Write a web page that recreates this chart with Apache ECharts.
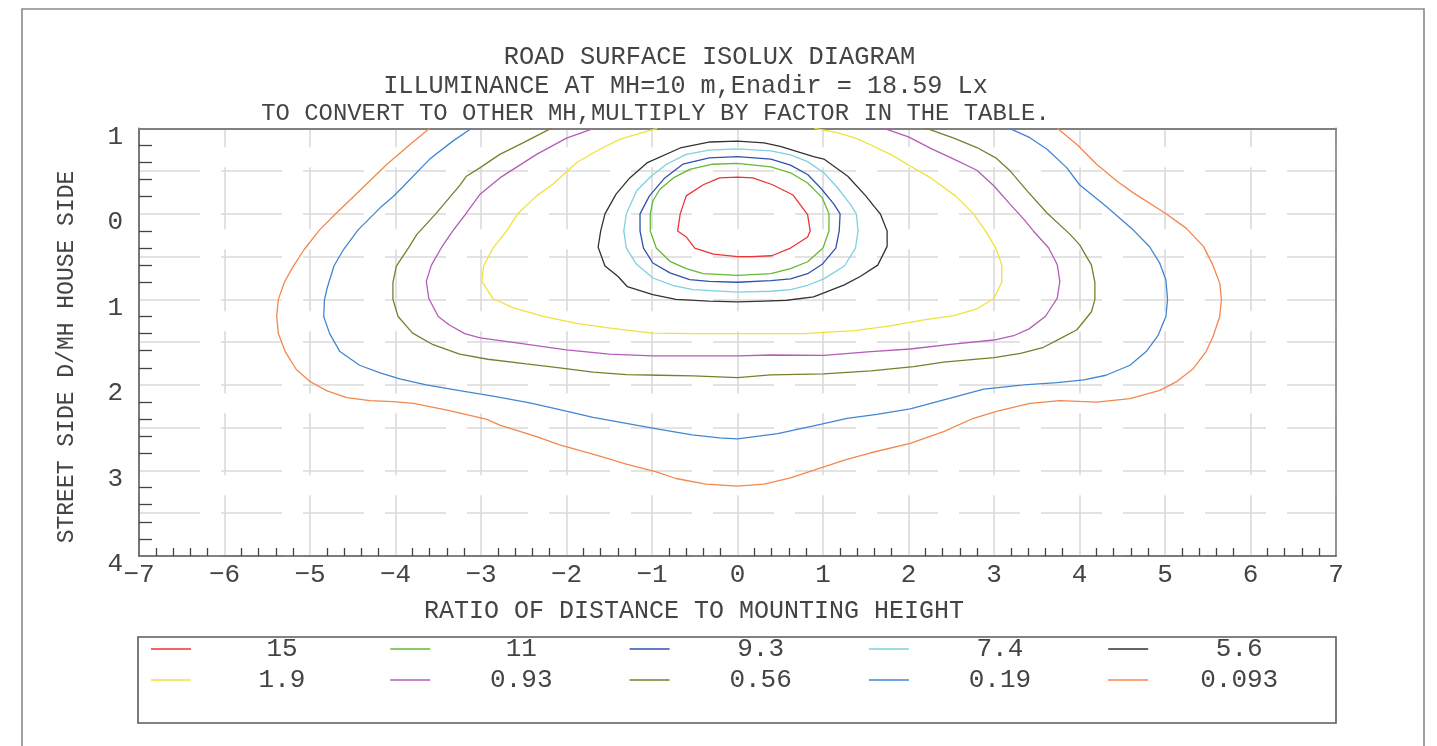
<!DOCTYPE html>
<html>
<head>
<meta charset="utf-8">
<script src="https://cdn.jsdelivr.net/npm/echarts@6/dist/echarts.min.js"></script>
<style>
html,body{margin:0;padding:0;background:#fff;}
#chart{width:1437px;height:746px;}
</style>
</head>
<body>
<div id="chart"></div>
<script>
// ---- data ----
const levels = ['15', '11', '9.3', '7.4', '5.6', '1.9', '0.93', '0.56', '0.19', '0.093'];
const levelColors = ['#ee3333', '#66b832', '#2d52b0', '#7fd0e0', '#333333', '#f0e23a', '#b45cb8', '#7d7d2e', '#4286d2', '#f3874c'];
const xTicks = [-7, 7, 1];   // min, max, step
const yTicks = [-1, 4, 1];   // min, max, step (house side negative, street side positive)

const iso15 = [[0,-0.43],[-0.21,-0.42],[-0.40,-0.34],[-0.60,-0.21],[-0.67,0.0],[-0.70,0.2],[-0.60,0.27],[-0.50,0.40],[-0.28,0.47],[0,0.50],[0.16,0.50],[0.40,0.49],[0.62,0.40],[0.82,0.27],[0.85,0.2],[0.82,0.01],[0.65,-0.22],[0.41,-0.34],[0.18,-0.42],[0,-0.43]];
const iso11 = [[0,-0.59],[-0.29,-0.58],[-0.56,-0.52],[-0.75,-0.42],[-0.91,-0.285],[-0.99,-0.15],[-1.02,0],[-1.02,0.2],[-0.95,0.4],[-0.79,0.555],[-0.60,0.64],[-0.40,0.70],[0,0.72],[0.39,0.70],[0.62,0.64],[0.82,0.56],[1.0,0.4],[1.07,0.2],[1.07,0],[0.99,-0.19],[0.82,-0.36],[0.62,-0.48],[0.39,-0.55],[0,-0.59]];
const iso9_3 = [[0,-0.67],[-0.33,-0.655],[-0.64,-0.58],[-0.85,-0.42],[-1.03,-0.21],[-1.14,0],[-1.14,0.2],[-1.10,0.4],[-0.99,0.575],[-0.79,0.69],[-0.56,0.77],[-0.33,0.79],[0,0.80],[0.39,0.78],[0.62,0.76],[0.82,0.70],[0.99,0.59],[1.15,0.40],[1.19,0.2],[1.20,0],[1.13,-0.11],[0.97,-0.305],[0.82,-0.46],[0.62,-0.57],[0.39,-0.64],[0,-0.67]];
const iso7_4 = [[0,-0.76],[-0.33,-0.745],[-0.60,-0.695],[-0.83,-0.58],[-1.01,-0.44],[-1.18,-0.27],[-1.30,0],[-1.33,0.2],[-1.30,0.4],[-1.18,0.59],[-0.99,0.75],[-0.75,0.84],[-0.52,0.885],[0,0.915],[0.39,0.905],[0.62,0.885],[0.82,0.835],[1.01,0.76],[1.25,0.61],[1.38,0.4],[1.41,0.2],[1.39,0],[1.32,-0.11],[1.17,-0.305],[1.01,-0.48],[0.82,-0.61],[0.62,-0.69],[0.39,-0.735],[0,-0.76]];
const iso5_6 = [[0,-0.85],[-0.32,-0.84],[-0.67,-0.77],[-1.06,-0.595],[-1.26,-0.42],[-1.42,-0.23],[-1.55,0],[-1.60,0.2],[-1.63,0.39],[-1.55,0.61],[-1.40,0.73],[-1.29,0.85],[-0.99,0.945],[-0.72,1.0],[-0.33,1.02],[0,1.03],[0.31,1.02],[0.58,1.01],[0.89,0.97],[1.25,0.83],[1.44,0.73],[1.64,0.6],[1.75,0.38],[1.75,0.2],[1.67,0],[1.60,-0.085],[1.50,-0.21],[1.29,-0.44],[1.01,-0.64],[0.89,-0.67],[0.50,-0.79],[0.31,-0.83],[0,-0.85]];
const iso1_9 = [[-0.94,-1.0],[-1.38,-0.87],[-1.61,-0.755],[-1.88,-0.60],[-2.16,-0.345],[-2.35,-0.21],[-2.57,0],[-2.70,0.2],[-2.86,0.4],[-2.97,0.61],[-2.99,0.79],[-2.86,0.99],[-2.62,1.10],[-2.27,1.20],[-1.88,1.28],[-1.49,1.335],[-0.99,1.395],[-0.52,1.40],[0,1.40],[0.78,1.40],[1.36,1.365],[1.75,1.315],[2.18,1.24],[2.53,1.19],[2.80,1.11],[3.0,0.99],[3.09,0.80],[3.09,0.595],[3.02,0.4],[2.90,0.2],[2.76,0],[2.55,-0.21],[2.26,-0.42],[2.02,-0.56],[1.79,-0.695],[1.56,-0.805],[1.38,-0.885],[1.17,-0.95],[0.90,-1.0]];
const iso0_93 = [[-1.68,-1.0],[-2.0,-0.885],[-2.35,-0.695],[-2.78,-0.42],[-3.01,-0.23],[-3.17,-0.01],[-3.33,0.2],[-3.46,0.39],[-3.58,0.60],[-3.64,0.79],[-3.61,0.99],[-3.50,1.20],[-3.37,1.30],[-3.19,1.40],[-3.01,1.45],[-2.50,1.52],[-2.0,1.59],[-1.50,1.64],[-0.99,1.66],[0,1.66],[0.39,1.65],[1.01,1.655],[1.56,1.61],[2.02,1.58],[2.49,1.525],[3.0,1.475],[3.23,1.425],[3.41,1.345],[3.60,1.20],[3.74,0.985],[3.77,0.79],[3.74,0.595],[3.64,0.4],[3.46,0.2],[3.35,0.065],[3.19,-0.11],[3.0,-0.325],[2.80,-0.51],[2.53,-0.64],[2.26,-0.765],[2.0,-0.90],[1.71,-1.0]];
const iso0_56 = [[-2.18,-1.0],[-2.51,-0.83],[-2.78,-0.695],[-3.01,-0.54],[-3.17,-0.44],[-3.25,-0.33],[-3.53,0],[-3.75,0.24],[-3.85,0.40],[-3.99,0.61],[-4.03,0.80],[-4.03,1.0],[-3.97,1.20],[-3.80,1.395],[-3.56,1.53],[-3.25,1.64],[-2.92,1.70],[-2.47,1.755],[-2.08,1.80],[-1.69,1.85],[-1.30,1.88],[-0.91,1.887],[-0.52,1.895],[0,1.914],[0.39,1.883],[1.01,1.871],[1.56,1.836],[2.06,1.785],[2.41,1.734],[3.0,1.68],[3.31,1.63],[3.58,1.56],[3.79,1.45],[3.97,1.355],[4.14,1.145],[4.18,1.0],[4.18,0.80],[4.14,0.60],[4.0,0.36],[3.89,0.24],[3.62,-0.01],[3.39,-0.265],[3.19,-0.50],[3.02,-0.655],[2.80,-0.775],[2.53,-0.885],[2.21,-1.0]];
const iso0_19 = [[-3.11,-1.0],[-3.33,-0.85],[-3.60,-0.64],[-3.91,-0.32],[-4.03,-0.20],[-4.18,-0.07],[-4.44,0.19],[-4.61,0.42],[-4.72,0.61],[-4.80,0.87],[-4.83,1.0],[-4.84,1.20],[-4.77,1.40],[-4.65,1.61],[-4.42,1.77],[-4.18,1.86],[-3.95,1.93],[-3.64,2.0],[-3.25,2.066],[-2.86,2.13],[-2.43,2.21],[-2.08,2.29],[-1.69,2.38],[-1.30,2.45],[-0.91,2.52],[-0.53,2.585],[-0.21,2.62],[0,2.63],[0.47,2.57],[0.97,2.46],[1.28,2.39],[1.63,2.345],[2.02,2.28],[2.49,2.155],[2.88,2.05],[3.35,2.0],[3.74,1.973],[4.05,1.94],[4.31,1.887],[4.59,1.77],[4.78,1.61],[4.92,1.42],[5.01,1.20],[5.03,1.0],[5.01,0.77],[4.94,0.58],[4.82,0.385],[4.63,0.19],[4.31,-0.09],[4.0,-0.34],[3.85,-0.54],[3.62,-0.755],[3.42,-0.89],[3.18,-1.0]];
const iso0_093 = [[-3.60,-1.0],[-3.83,-0.81],[-4.10,-0.58],[-4.45,-0.24],[-4.69,-0.01],[-4.89,0.19],[-5.07,0.42],[-5.20,0.62],[-5.30,0.80],[-5.37,1.0],[-5.39,1.20],[-5.37,1.40],[-5.29,1.61],[-5.16,1.82],[-5.0,1.96],[-4.80,2.07],[-4.57,2.148],[-4.30,2.184],[-4.03,2.195],[-3.79,2.215],[-3.41,2.293],[-2.94,2.40],[-2.78,2.47],[-2.35,2.605],[-2.08,2.70],[-1.62,2.83],[-1.30,2.926],[-0.95,3.016],[-0.72,3.094],[-0.37,3.16],[0,3.184],[0.31,3.16],[0.62,3.086],[1.01,2.957],[1.28,2.871],[1.56,2.793],[2.02,2.684],[2.41,2.547],[2.76,2.39],[3.04,2.305],[3.42,2.215],[3.77,2.184],[4.20,2.20],[4.59,2.16],[4.94,2.063],[5.13,1.965],[5.33,1.81],[5.48,1.61],[5.56,1.44],[5.64,1.20],[5.66,1.0],[5.64,0.81],[5.56,0.60],[5.45,0.38],[5.25,0.17],[5.0,-0.01],[4.63,-0.245],[4.44,-0.38],[4.20,-0.58],[3.97,-0.81],[3.74,-1.0]];

const contours = [iso15, iso11, iso9_3, iso7_4, iso5_6, iso1_9, iso0_93, iso0_56, iso0_19, iso0_093];

const titleLines = ['ROAD SURFACE ISOLUX DIAGRAM', 'ILLUMINANCE AT MH=10 m,Enadir = 18.59 Lx', 'TO CONVERT TO OTHER MH,MULTIPLY BY FACTOR IN THE TABLE.'];
const xName = 'RATIO OF DISTANCE TO MOUNTING HEIGHT';
const yName = 'STREET SIDE D/MH HOUSE SIDE';

// ---- styling ----
const FONT = '"Liberation Mono", "Courier New", monospace';
const TXT = '#444';
const gridDash = { color: '#dadada', width: 1.6 };

const chart = echarts.init(document.getElementById('chart'), null, { renderer: 'canvas' });

function legendCfg(names, top) {
  return {
    data: names, left: 151, top: top, orient: 'horizontal',
    icon: 'rect', itemWidth: 40, itemHeight: 1.5, itemGap: 22.3, padding: 0,
    selectedMode: false,
    formatter: n => '{a|' + n + '}',
    textStyle: { rich: { a: { width: 172, align: 'center', fontSize: 26, lineHeight: 26, fontFamily: FONT, color: TXT } } }
  };
}

const option = {
  animation: false,
  backgroundColor: '#fff',
  color: levelColors,
  title: [
    { text: titleLines[0], left: 709.5, top: 57, textAlign: 'center', textVerticalAlign: 'middle', padding: 0, textStyle: { fontFamily: FONT, fontSize: 25.4, fontWeight: 'normal', color: TXT } },
    { text: titleLines[1], left: 685.5, top: 86, textAlign: 'center', textVerticalAlign: 'middle', padding: 0, textStyle: { fontFamily: FONT, fontSize: 25.2, fontWeight: 'normal', color: TXT } },
    { text: titleLines[2], left: 655.5, top: 113.5, textAlign: 'center', textVerticalAlign: 'middle', padding: 0, textStyle: { fontFamily: FONT, fontSize: 23.9, fontWeight: 'normal', color: TXT } }
  ],
  legend: [legendCfg(levels.slice(0, 5), 636), legendCfg(levels.slice(5), 667)],
  grid: { left: 139, top: 128.3, width: 1197, height: 427.7, containLabel: false, outerBoundsMode: 'none' },
  xAxis: [
    {
      type: 'value', min: xTicks[0], max: xTicks[1], interval: xTicks[2], position: 'bottom',
      axisLine: { show: true, onZero: false, lineStyle: { color: '#5a5a5a', width: 1.6 } },
      axisTick: { show: false, inside: true },
      minorTick: { show: true, splitNumber: 5, length: 8, lineStyle: { color: '#444', width: 1.3 } },
      axisLabel: { margin: 6, fontFamily: FONT, fontSize: 26, color: TXT, formatter: v => (v < 0 ? '\u2212' + Math.abs(v) : '' + v) },
      splitLine: { show: true, lineStyle: Object.assign({ type: [62, 20], dashOffset: 43 }, gridDash) },
      minorSplitLine: { show: false }
    },
    {
      type: 'value', min: xTicks[0], max: xTicks[1], interval: xTicks[2], position: 'top',
      axisLine: { show: true, onZero: false, lineStyle: { color: '#808080', width: 2 } },
      axisTick: { show: false }, axisLabel: { show: false }, splitLine: { show: false }
    }
  ],
  yAxis: [
    {
      type: 'value', min: yTicks[0], max: yTicks[1], interval: yTicks[2], inverse: true, position: 'left',
      axisLine: { show: true, onZero: false, lineStyle: { color: '#5a5a5a', width: 1.6 } },
      axisTick: { show: false, inside: true },
      minorTick: { show: true, splitNumber: 5, length: 13, lineStyle: { color: '#444', width: 1.3 } },
      axisLabel: { margin: 16, verticalAlign: 'top', lineHeight: 17, fontFamily: FONT, fontSize: 26, color: TXT, formatter: v => '' + Math.abs(v) },
      splitLine: { show: false }
    },
    {
      type: 'value', min: yTicks[0], max: yTicks[1], interval: yTicks[2] / 2, inverse: true, position: 'right',
      axisLine: { show: true, onZero: false, lineStyle: { color: '#808080', width: 1.6 } },
      axisTick: { show: false }, axisLabel: { show: false },
      splitLine: { show: true, lineStyle: Object.assign({ type: [61, 21], dashOffset: 0 }, gridDash) }
    }
  ],
  graphic: [
    { type: 'rect', silent: true, z: -10, shape: { x: 22, y: 9, width: 1402, height: 800 }, style: { fill: 'none', stroke: '#8a8a8a', lineWidth: 1.6 } },
    { type: 'rect', silent: true, shape: { x: 138, y: 637, width: 1198, height: 86 }, style: { fill: 'none', stroke: '#5a5a5a', lineWidth: 1.6 } },
    { type: 'text', silent: true, x: 67, y: 357, rotation: Math.PI / 2, style: { text: yName, font: '23px ' + FONT, fill: TXT, align: 'center', verticalAlign: 'middle' } },
    { type: 'text', silent: true, x: 694, y: 611, style: { text: xName, font: '25px ' + FONT, fill: TXT, align: 'center', verticalAlign: 'middle' } }
  ],
  series: levels.map((name, i) => ({
    name: name, type: 'line', xAxisIndex: 0, yAxisIndex: 0,
    data: contours[i], showSymbol: false, symbol: 'none', smooth: false, clip: true, silent: true,
    lineStyle: { width: 1.3, color: levelColors[i] }, itemStyle: { color: levelColors[i] },
    emphasis: { disabled: true }
  }))
};

chart.setOption(option);
</script>
</body>
</html>
